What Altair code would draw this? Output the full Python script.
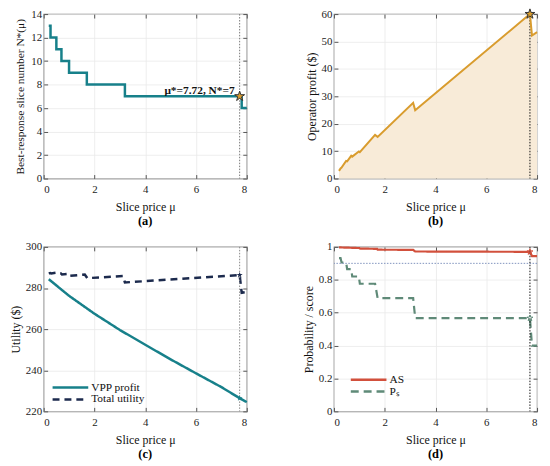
import altair as alt
import pandas as pd

FONT = "Liberation Serif"
W, H = 205, 166
TICK = 4
TEAL = "#17808a"
GOLD = "#d99c2e"
GOLD_FILL = "#f8ebd8"
NAVY = "#1c2a4d"
RED = "#d2503c"
GREEN = "#5f8a78"
STAR = ("M0,-1L0.2245,-0.309L0.9511,-0.309L0.3633,0.118L0.5878,0.809L0,0.382"
        "L-0.5878,0.809L-0.3633,0.118L-0.9511,-0.309L-0.2245,-0.309Z")
LEG_SYM = "M-4,0L4,0"

# ---- shared
x_ticks = [0, 2, 4, 6, 8]
opt_price = 7.72

# ---- (a) best-response slice number
a_price = [0.2, 0.27, 0.5, 0.7, 1.0, 1.7, 3.2, 7.8, 8.0]
a_n = [13, 12, 11, 10, 9, 8, 7, 6, 6]
a_yticks = [0, 2, 4, 6, 8, 10, 12, 14]
opt_n = 7
a_label = "μ*=7.72, N*=7"

# ---- (b) operator profit
b_price = [0.2, 0.26, 0.3, 0.48, 0.52, 0.68, 0.72, 0.98, 1.02, 1.62, 1.72, 3.12, 3.2, 7.72, 7.8, 8.0]
b_profit = [2.8, 3.7, 4.0, 6.4, 6.3, 8.3, 8.0, 9.9, 9.6, 15.9, 15.2, 27.6, 24.9, 60.0, 52.2, 53.4]
b_yticks = [0, 10, 20, 30, 40, 50, 60]
opt_profit = 60.0

# ---- (c) utility
c_series = ["VPP profit", "Total utility"]
c_vpp_price = [0.2, 1, 2, 3, 4, 5, 6, 7, 7.72, 8]
c_vpp = [284.3, 276.2, 267.5, 259.6, 252.4, 245.3, 238.5, 231.8, 226.4, 224.5]
c_total_price = [0.2, 0.26, 0.3, 0.48, 0.52, 0.68, 0.72, 0.98, 1.02, 1.62, 1.72, 3.12, 3.2, 7.72, 7.8, 8.0]
c_total = [287.1, 287.3, 287.1, 287.4, 287.0, 287.1, 286.6, 286.9, 285.9, 286.6, 284.8, 285.8, 282.7, 286.3, 277.7, 278.1]
c_opt = [226.4, 286.3]
c_yticks = [220, 240, 260, 280, 300]

# ---- (d) probability / score
d_series = ["AS", "Pₛ"]
d_as_price = [0.2, 1.0, 1.02, 1.7, 1.72, 3.12, 3.2, 7.72, 7.8, 8.0]
d_as = [0.997, 0.993, 0.99, 0.988, 0.983, 0.982, 0.972, 0.970, 0.944, 0.944]
d_ps_price = [0.2, 0.26, 0.3, 0.48, 0.52, 0.68, 0.72, 0.98, 1.02, 1.62, 1.72, 3.12, 3.2, 7.72, 7.8, 8.0]
d_ps = [0.932, 0.932, 0.905, 0.905, 0.865, 0.865, 0.82, 0.82, 0.776, 0.776, 0.689, 0.689, 0.567, 0.567, 0.40, 0.40]
d_opt = [0.970, 0.567]
d_threshold = 0.9
d_yticks = [0, 0.2, 0.4, 0.6, 0.8, 1.0]

XS = alt.Scale(domain=[0, 8], nice=False, zero=False)


def xenc(mode=None):
    if mode == "main":
        ax = alt.Axis(values=x_ticks, title="Slice price μ", orient="bottom", offset=-TICK,
                      tickSize=TICK, domain=False, grid=True, labelPadding=5, titlePadding=7,
                      format="d", labelFont=FONT, titleFont=FONT)
    elif mode == "ticks":
        ax = alt.Axis(values=x_ticks, title=None, orient="top", offset=-TICK, tickSize=TICK,
                      domain=False, grid=False, labels=False)
    else:
        ax = None
    return alt.X("price:Q", scale=XS, axis=ax)


def yenc(field, scale, vals=None, title=None, mode=None, tp=4, fmt="d", tfs=12):
    if mode == "main":
        ax = alt.Axis(values=vals, title=title, orient="left", offset=-TICK, tickSize=TICK,
                      domain=False, grid=True, labelPadding=2, titlePadding=tp, format=fmt,
                      labelFont=FONT, titleFont=FONT, titleFontSize=tfs)
    elif mode == "ticks":
        ax = alt.Axis(values=vals, title=None, orient="right", offset=-TICK, tickSize=TICK,
                      domain=False, grid=False, labels=False)
    else:
        ax = None
    return alt.Y(f"{field}:Q", scale=scale, axis=ax)


def sub_title(t):
    return alt.TitleParams(t, orient="bottom", fontWeight="bold", fontSize=12.5, font=FONT,
                           offset=3, anchor="middle")


def vline(color):
    return alt.Chart(pd.DataFrame({"price": [opt_price]})).mark_rule(
        color=color, strokeDash=[1.5, 1.5], strokeWidth=1).encode(x=xenc())


def legend(x, y):
    return alt.Legend(title=None, orient="none", legendX=x, legendY=y, symbolType=LEG_SYM,
                      symbolSize=81, symbolStrokeWidth=2.5, labelFont=FONT, labelFontSize=11.5,
                      labelColor="#111", padding=0, rowPadding=0, labelOffset=15)


# ================= (a)
df_a = pd.DataFrame({"price": a_price, "n": a_n})
ys_a = alt.Scale(domain=[0, 14], nice=False)
line_a = alt.Chart(df_a).mark_line(interpolate="step-after", color=TEAL, strokeWidth=2.5).encode(
    x=xenc("main"), y=yenc("n", ys_a, a_yticks, "Best-response slice number N*(μ)", "main", tp=5,
                           tfs=11.5))
ticks_a = alt.Chart(df_a).mark_point(opacity=0).encode(
    x=xenc("ticks"), y=yenc("n", ys_a, a_yticks, mode="ticks"))
df_a_opt = pd.DataFrame({"price": [opt_price], "n": [opt_n], "label": [a_label]})
star_a = alt.Chart(df_a_opt).mark_point(shape=STAR, size=110, filled=True, fill=GOLD, stroke="#333",
                                        strokeWidth=1, opacity=1).encode(x=xenc(), y=yenc("n", ys_a))
text_a = alt.Chart(df_a_opt).mark_text(align="right", baseline="alphabetic", dx=-5, dy=-2,
                                       fontWeight="bold", font=FONT, fontSize=11.5, color="#111").encode(
    x=xenc(), y=yenc("n", ys_a), text="label:N")
pa = alt.layer(line_a, vline("#777"), star_a, text_a, ticks_a).resolve_axis(
    x="independent", y="independent").properties(width=W, height=H, title=sub_title("(a)"))

# ================= (b)
df_b = pd.DataFrame({"price": b_price, "profit": b_profit})
ys_b = alt.Scale(domain=[0, 60], nice=False)
area_b = alt.Chart(df_b).mark_area(color=GOLD_FILL, opacity=1).encode(
    x=xenc("main"), y=yenc("profit", ys_b, b_yticks, "Operator profit ($)", "main", tp=3))
line_b = alt.Chart(df_b).mark_line(color=GOLD, strokeWidth=2).encode(x=xenc(), y=yenc("profit", ys_b))
ticks_b = alt.Chart(df_b).mark_point(opacity=0).encode(
    x=xenc("ticks"), y=yenc("profit", ys_b, b_yticks, mode="ticks"))
star_b = alt.Chart(pd.DataFrame({"price": [opt_price], "profit": [opt_profit]})).mark_point(
    shape=STAR, size=110, filled=True, fill=GOLD, stroke="#333", strokeWidth=1, opacity=1).encode(
    x=xenc(), y=yenc("profit", ys_b))
pb = alt.layer(area_b, vline("#111"), line_b, star_b, ticks_b).resolve_axis(
    x="independent", y="independent").properties(width=W, height=H, title=sub_title("(b)"))

# ================= (c)
df_c = pd.concat([
    pd.DataFrame({"price": c_vpp_price, "value": c_vpp, "series": c_series[0]}),
    pd.DataFrame({"price": c_total_price, "value": c_total, "series": c_series[1]}),
])
ys_c = alt.Scale(domain=[220, 300], nice=False, zero=False)
leg_c = legend(21, 136)
line_c = alt.Chart(df_c).mark_line(strokeWidth=2.5).encode(
    x=xenc("main"), y=yenc("value", ys_c, c_yticks, "Utility ($)", "main", tp=3),
    color=alt.Color("series:N", scale=alt.Scale(domain=c_series, range=[TEAL, NAVY]), legend=leg_c,
                    sort=c_series),
    strokeDash=alt.StrokeDash("series:N", scale=alt.Scale(domain=c_series, range=[[1, 0], [7, 5]]),
                              legend=leg_c, sort=c_series))
ticks_c = alt.Chart(df_c).mark_point(opacity=0).encode(
    x=xenc("ticks"), y=yenc("value", ys_c, c_yticks, mode="ticks"))
star_c = alt.Chart(pd.DataFrame({"price": [opt_price, opt_price], "value": c_opt, "series": c_series})).mark_point(
    shape=STAR, size=40, filled=True, opacity=1).encode(
    x=xenc(), y=yenc("value", ys_c),
    fill=alt.Fill("series:N", scale=alt.Scale(domain=c_series, range=[TEAL, NAVY]), legend=None))
pc = alt.layer(line_c, vline("#888"), star_c, ticks_c).resolve_axis(
    x="independent", y="independent").properties(width=W, height=H, title=sub_title("(c)"))

# ================= (d)
df_d = pd.concat([
    pd.DataFrame({"price": d_as_price, "value": d_as, "series": d_series[0]}),
    pd.DataFrame({"price": d_ps_price, "value": d_ps, "series": d_series[1]}),
])
ys_d = alt.Scale(domain=[0, 1], nice=False)
leg_d = legend(29, 128)
line_d = alt.Chart(df_d).mark_line(strokeWidth=2.2).encode(
    x=xenc("main"), y=yenc("value", ys_d, d_yticks, "Probability / score", "main", tp=3, fmt=".1~f"),
    color=alt.Color("series:N", scale=alt.Scale(domain=d_series, range=[RED, GREEN]), legend=leg_d,
                    sort=d_series),
    strokeDash=alt.StrokeDash("series:N", scale=alt.Scale(domain=d_series, range=[[1, 0], [8, 5]]),
                              legend=leg_d, sort=d_series))
hline_d = alt.Chart(pd.DataFrame({"value": [d_threshold]})).mark_rule(
    color="#7f93bd", strokeDash=[1.5, 1.5], strokeWidth=1).encode(y=yenc("value", ys_d))
ticks_d = alt.Chart(df_d).mark_point(opacity=0).encode(
    x=xenc("ticks"), y=yenc("value", ys_d, d_yticks, mode="ticks"))
star_d = alt.Chart(pd.DataFrame({"price": [opt_price, opt_price], "value": d_opt, "series": d_series})).mark_point(
    shape=STAR, size=40, filled=False, opacity=1, strokeWidth=1).encode(
    x=xenc(), y=yenc("value", ys_d),
    stroke=alt.Stroke("series:N", scale=alt.Scale(domain=d_series, range=[RED, GREEN]), legend=None))
pdd = alt.layer(line_d, hline_d, vline("#111"), star_d, ticks_d).resolve_axis(
    x="independent", y="independent").properties(width=W, height=H, title=sub_title("(d)"))

chart = alt.concat(pa, pb, pc, pdd, columns=2, spacing={"row": 69, "column": 88},
                   bounds="flush").resolve_scale(
    color="independent", strokeDash="independent", fill="independent", stroke="independent"
).resolve_legend(
    color="independent", strokeDash="independent"
).properties(
    padding={"left": 0, "top": -4, "right": 0, "bottom": 0}
).configure_view(stroke="#808080", strokeWidth=1.2).configure_axis(
    labelFont=FONT, titleFont=FONT, labelFontSize=11, titleFontSize=12, labelColor="#222",
    titleColor="#111", titleFontWeight="normal", tickColor="#555", gridColor="#e9e9e9", gridWidth=0.8
).configure_title(font=FONT)

chart.save("out.html", embed_options={"renderer": "svg", "actions": False})
